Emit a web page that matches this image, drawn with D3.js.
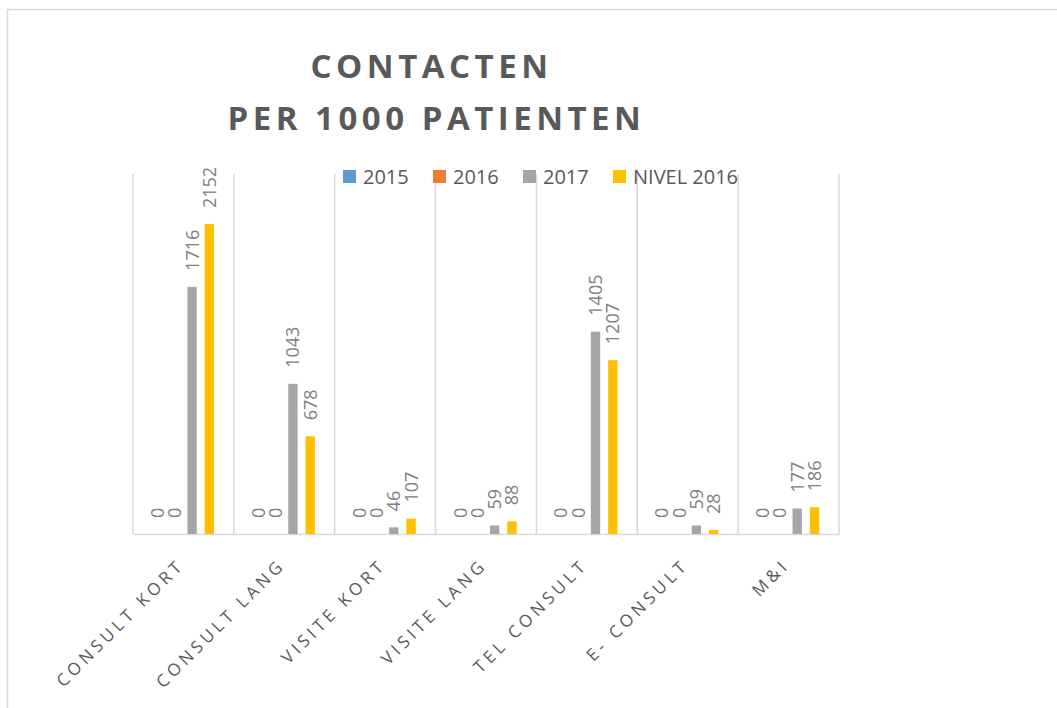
<!DOCTYPE html>
<html>
<head>
<meta charset="utf-8">
<script src="https://cdn.jsdelivr.net/npm/d3@7"></script>
<style>
  html, body { margin: 0; padding: 0; background: #fff; }
  svg { display: block; }
</style>
</head>
<body>
<script>
const categories = ["CONSULT KORT", "CONSULT LANG", "VISITE KORT", "VISITE LANG", "TEL CONSULT", "E- CONSULT", "M&I"];
const seriesNames = ["2015", "2016", "2017", "NIVEL 2016"];
const values2015 = [0, 0, 0, 0, 0, 0, 0];
const values2016 = [0, 0, 0, 0, 0, 0, 0];
const values2017 = [1716, 1043, 46, 59, 1405, 59, 177];
const valuesNivel2016 = [2152, 678, 107, 88, 1207, 28, 186];
const seriesColors = ["#5b9bd5", "#ed7d31", "#a5a5a5", "#ffc000"];
const titleLines = ["CONTACTEN", "PER 1000 PATIENTEN"];

const seriesValues = [values2015, values2016, values2017, valuesNivel2016];

const W = 1057, H = 708;
const margin = { left: 133, right: 1057 - 839, top: 174, bottom: 708 - 534 };

const svg = d3.select("body").append("svg").attr("width", W).attr("height", H);

// outer chart border
svg.append("rect")
  .attr("x", 7.5).attr("y", 9.5)
  .attr("width", 1200).attr("height", 800)
  .attr("fill", "none").attr("stroke", "#d9d9d9").attr("stroke-width", 1.5);

const x0 = d3.scaleBand().domain(categories).range([margin.left, W - margin.right]).padding(0);
const groupW = 69.2;
const bw = x0.bandwidth();
const x1 = d3.scaleBand().domain(seriesNames)
  .range([(bw - groupW) / 2, (bw + groupW) / 2])
  .paddingInner(0.46).paddingOuter(0.23);
const y = d3.scaleLinear().domain([0, 2500]).range([H - margin.bottom, margin.top]);

// vertical gridlines at category boundaries
const bounds = categories.map(c => x0(c)).concat([x0(categories[categories.length - 1]) + bw]);
svg.append("g").selectAll("line").data(bounds).join("line")
  .attr("x1", d => d).attr("x2", d => d)
  .attr("y1", y(2500)).attr("y2", y(0))
  .attr("stroke", "#d9d9d9").attr("stroke-width", 1.5);

// baseline axis
const xAxis = d3.axisBottom(x0).tickSize(0).tickFormat("");
const axG = svg.append("g").attr("transform", `translate(0,${y(0)})`).call(xAxis);
axG.select(".domain").attr("stroke", "#d9d9d9").attr("stroke-width", 1.5);

// bars
const data = [];
categories.forEach((c, i) => {
  seriesNames.forEach((s, j) => {
    data.push({ cat: c, series: s, value: seriesValues[j][i], color: seriesColors[j] });
  });
});

svg.append("g").selectAll("rect").data(data).join("rect")
  .attr("x", d => x0(d.cat) + x1(d.series))
  .attr("y", d => y(d.value))
  .attr("width", x1.bandwidth())
  .attr("height", d => y(0) - y(d.value))
  .attr("fill", d => d.color);

// data labels (rotated)
svg.append("g").selectAll("text").data(data).join("text")
  .attr("transform", d => `translate(${x0(d.cat) + x1(d.series) + x1.bandwidth() / 2},${y(d.value) - 16}) rotate(-90)`)
  .attr("text-anchor", "start")
  .attr("dy", "0.36em")
  .attr("font-family", "'Open Sans', sans-serif")
  .attr("font-size", 18)
  .attr("fill", "#808080")
  .text(d => d.value);

// category labels
svg.append("g").selectAll("text").data(categories).join("text")
  .attr("transform", d => `translate(${x0(d) + bw / 2 + 2},${y(0) + 32}) rotate(-45)`)
  .attr("text-anchor", "end")
  .attr("font-family", "'Open Sans', sans-serif")
  .attr("font-size", 17)
  .attr("letter-spacing", "4px")
  .attr("fill", "#595959")
  .text(d => d);

// title
svg.append("g").selectAll("text").data(titleLines).join("text")
  .attr("x", (d, i) => i === 0 ? 431.5 : 436.5)
  .attr("y", (d, i) => 78 + i * 52)
  .attr("text-anchor", "middle")
  .attr("font-family", "'Open Sans', sans-serif")
  .attr("font-weight", "bold")
  .attr("font-size", 33)
  .attr("letter-spacing", "4.5px")
  .attr("fill", "#595959")
  .text(d => d);

// legend
const legendX = [343, 433, 523, 613];
const lg = svg.append("g").selectAll("g").data(seriesNames).join("g")
  .attr("transform", (d, i) => `translate(${legendX[i]},170)`);
lg.append("rect").attr("width", 13).attr("height", 13)
  .attr("fill", (d, i) => seriesColors[i]);
lg.append("text").attr("x", 20).attr("y", 13.5)
  .attr("font-family", "'Open Sans', sans-serif")
  .attr("font-size", 20)
  .attr("fill", "#595959")
  .text(d => d);
</script>
</body>
</html>
